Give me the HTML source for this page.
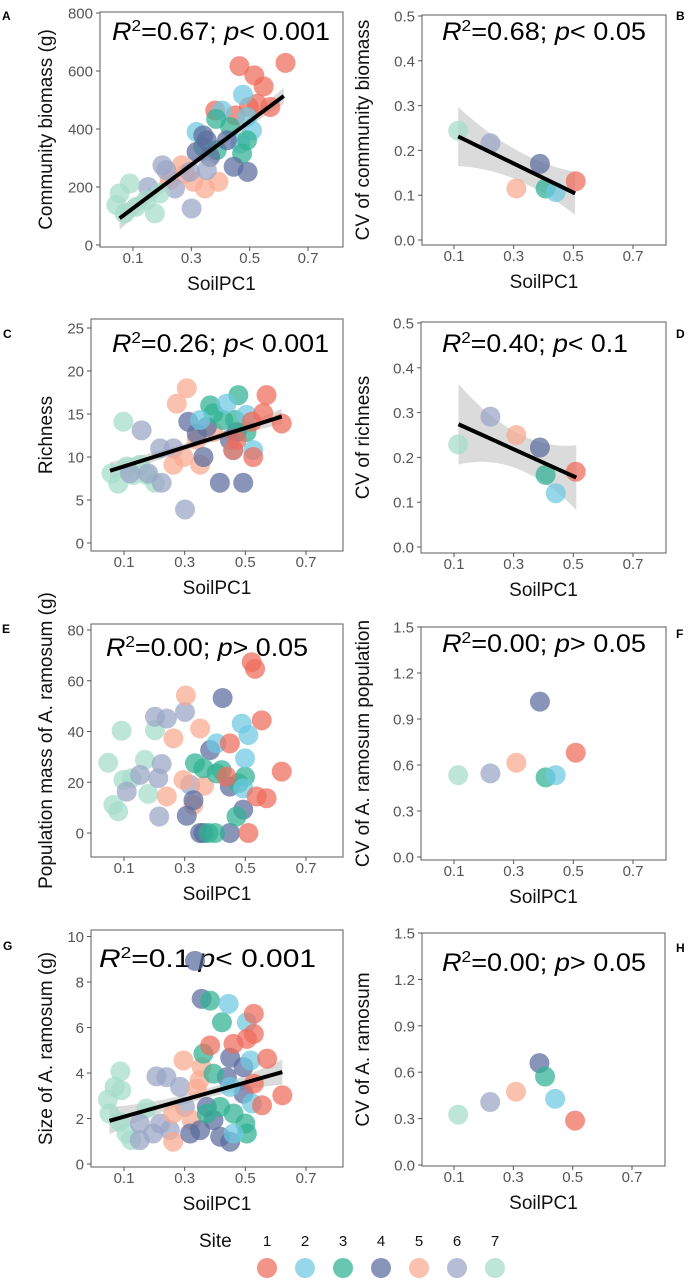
<!DOCTYPE html>
<html><head><meta charset="utf-8"><style>
html,body{margin:0;padding:0;background:#fff;}
svg{display:block;font-family:"Liberation Sans",Arial,sans-serif;}
</style></head><body>
<svg id="fig" width="688" height="1280" viewBox="0 0 688 1280" xmlns="http://www.w3.org/2000/svg"></svg>
<script>
// ---------- DATA ----------
const siteColors=['#ee6b5c','#6ec9e2','#2fb193','#5a6c9c','#f9a990','#9aa5c6','#a5dcc9'];
const siteLabels=['1','2','3','4','5','6','7'];

const aX=[.465,.516,.548,.623,.571,.525,.497,.382,.451, .477,.405,.491,.508,.468,.318, .385,.433,.491,.474,.341,.387, .341,.353,.422,.445,.493,.364,.318, .267,.279,.307,.347,.393,.226, .201,.152,.214,.244,.301,.295,.353, .089,.054,.043,.111,.175,.192,.146,.071];
const aY=[617,585,547,628,476,487,476,464,447, 518,464,441,395,350,390, 435,407,361,315,338,327, 378,361,361,270,252,304,321, 275,246,218,195,218,224, 275,200,258,195,126,252,258, 212,178,138,132,109,178,155,109];
const aSite=[1,1,1,1,1,1,1,1,1, 2,2,2,2,2,2, 3,3,3,3,3,3, 4,4,4,4,4,4,4, 5,5,5,5,5,5, 6,6,6,6,6,6,6, 7,7,7,7,7,7,7,7];
const aFitX=[.054,.617]; const aFitY=[92,514]; const aCiX=[.054,.33,.617]; const aCiHw=[40,14,28];

const cX=[.098,.059,.081,.131,.175,.202,.153,.109, .158,.219,.224,.301,.180,.120,.263, .274,.307,.263,.351,.296,.395,.340, .312,.340,.362,.416,.493,.449,.471,.373, .384,.395,.477,.427,.504,.466, .351,.438,.504,.460,.526, .570,.559,.620,.521,.526,.471,.460];
const cY=[14.1,8.1,6.9,7.9,7.9,7.0,9.1,8.9, 13.1,11.0,7.0,3.9,8.1,8.1,11.0, 16.2,18.0,9.1,9.1,10.0,12.9,12.0, 14.1,12.7,10.0,7.0,7.0,12.0,12.9,13.5, 16.0,15.1,17.2,14.3,12.9,14.3, 14.3,16.2,14.9,10.8,10.8, 17.2,15.1,13.9,14.1,10.0,12.0,10.8];
const cSite=[7,7,7,7,7,7,7,7, 6,6,6,6,6,6,6, 5,5,5,5,5,5,5, 4,4,4,4,4,4,4,4, 3,3,3,3,3,3, 2,2,2,2,2, 1,1,1,1,1,1,1];
const cFitX=[.054,.62]; const cFitY=[8.4,14.7]; const cCiX=[.054,.33,.62]; const cCiHw=[1.0,0.4,0.9];

const eX=[.048,.092,.065,.081,.098,.125,.169,.180,.202, .109,.153,.202,.241,.301,.224,.213,.216,.318, .304,.351,.263,.241,.296,.329,.364, .425,.384,.307,.351,.362,.449,.449,.493,.329, .334,.362,.405,.422,.378,.400,.471,.499,.477, .405,.488,.510,.499,.493, .521,.532,.554,.620,.537,.570,.449,.510,.438];
const eY=[27.7,40.3,11.1,8.5,20.9,21.6,28.8,15.4,40.5, 16.3,22.9,45.8,45.1,47.7,27.2,21.6,6.5,19.0, 54.2,41.2,37.3,14.4,20.9,11.1,18.6, 53.2,32.7,6.8,0,0,0,18.3,9.2,12.9, 27.5,25.5,23.5,24.8,0,0,6.5,22.2,19.6, 35.3,43.1,38.6,29.4,17.6, 67.3,64.7,44.4,24.2,14.4,13.7,35.3,0,22.2];
const eSite=[7,7,7,7,7,7,7,7,7, 6,6,6,6,6,6,6,6,6, 5,5,5,5,5,5,5, 4,4,4,4,4,4,4,4,4, 3,3,3,3,3,3,3,3,3, 2,2,2,2,2, 1,1,1,1,1,1,1,1,1];

const gX=[.047,.088,.069,.091,.052,.108,.124,.086,.174, .207,.240,.152,.196,.219,.251,.285,.301,.152, .296,.349,.262,.262,.323,.356,.340, .356,.450,.494,.439,.494,.373,.395,.417,.450,.318,.351,.334, .384,.423,.362,.395,.461,.500,.505,.373,.417, .445,.505,.517,.450,.522,.461, .528,.528,.505,.461,.572,.622,.555,.528,.384];
const gY=[2.83,4.07,3.39,3.24,2.22,1.34,1.05,1.85,2.44, 3.85,3.82,1.05,1.34,1.78,1.49,3.39,2.51,1.78, 4.55,3.68,2.22,0.98,1.93,4.26,3.31, 7.26,4.67,4.26,3.82,3.09,2.51,1.93,1.20,0.98,1.34,1.49,8.93, 7.18,6.23,4.85,3.97,2.22,1.78,1.34,2.22,2.51, 7.04,6.23,4.55,3.39,2.66,1.34, 6.60,5.72,5.50,5.28,4.63,3.02,2.58,3.53,5.21];
const gSite=[7,7,7,7,7,7,7,7,7, 6,6,6,6,6,6,6,6,6, 5,5,5,5,5,5,5, 4,4,4,4,4,4,4,4,4,4,4,4, 3,3,3,3,3,3,3,3,3, 2,2,2,2,2,2, 1,1,1,1,1,1,1,1,1];
const gFitX=[.052,.622]; const gFitY=[1.90,4.04]; const gCiX=[.052,.33,.622]; const gCiHw=[0.6,0.2,0.55];

const siteMeanX=[.114,.222,.309,.388,.407,.441,.508];
const rSite=[7,6,5,4,3,2,1];
const bY=[.244,.216,.115,.170,.115,.107,.131];
const bFitX=[.114,.506]; const bFitY=[.231,.104]; const bCiX=[.114,.31,.506]; const bCiHw=[.066,.033,.048];
const dY=[.229,.291,.250,.222,.161,.120,.168];
const dFitX=[.115,.51]; const dFitY=[.274,.155]; const dCiX=[.115,.31,.51]; const dCiHw=[.09,.04,.072];
const fY=[.534,.545,.615,1.013,.519,.534,.680];
const hY=[.326,.407,.474,.659,.572,.428,.287];

const xTicks=[0.1,0.3,0.5,0.7];
const ticksA=[0,200,400,600,800];
const ticksCV5=[0,0.1,0.2,0.3,0.4,0.5];
const ticksC=[0,5,10,15,20,25];
const ticksE=[0,20,40,60,80];
const ticksCV15=[0,0.3,0.6,0.9,1.2,1.5];
const ticksG=[0,2,4,6,8,10];

// ---------- RENDER ----------
const NS='http://www.w3.org/2000/svg';
const svg=document.getElementById('fig');
function mk(tag,attrs,parent){const e=document.createElementNS(NS,tag);for(const k in attrs)e.setAttribute(k,attrs[k]);(parent||svg).appendChild(e);return e;}
function lagr(xs,ys,x){let s=0;for(let i=0;i<xs.length;i++){let p=ys[i];for(let j=0;j<xs.length;j++)if(j!==i)p*=(x-xs[j])/(xs[i]-xs[j]);s+=p;}return s;}

const panels=[
 {id:'a',letter:'A',lx:2,ly:20,l:100,t:12,r:343,b:247,x1:133,x7:308,y0v:0,y0p:245,y1v:800,y1p:13,yt:ticksA,fmt:v=>String(v),title:'Community biomass (g)',tx:52,r2:'0.67',op:'<',pv:'0.001',s0:112,s1:330,sy:40,X:aX,Y:aY,S:aSite,fx:aFitX,fy:aFitY,cx:aCiX,ch:aCiHw},
 {id:'b',letter:'B',lx:676,ly:20,l:422,t:15,r:666,b:245,x1:454,x7:633,y0v:0,y0p:240,y1v:0.5,y1p:16,yt:ticksCV5,fmt:v=>v.toFixed(1),title:'CV of community biomass',tx:369,r2:'0.68',op:'<',pv:'0.05',s0:442,s1:646,sy:40,X:siteMeanX,Y:bY,S:rSite,fx:bFitX,fy:bFitY,cx:bCiX,ch:bCiHw},
 {id:'c',letter:'C',lx:3,ly:338,l:91,t:319,r:343,b:551,x1:124,x7:306,y0v:0,y0p:543,y1v:25,y1p:328,yt:ticksC,fmt:v=>String(v),title:'Richness',tx:52,r2:'0.26',op:'<',pv:'0.001',s0:112,s1:329,sy:352,X:cX,Y:cY,S:cSite,fx:cFitX,fy:cFitY,cx:cCiX,ch:cCiHw},
 {id:'d',letter:'D',lx:676,ly:338,l:421,t:322,r:666,b:553,x1:454,x7:633,y0v:0,y0p:547,y1v:0.5,y1p:323,yt:ticksCV5,fmt:v=>v.toFixed(1),title:'CV of richness',tx:369,r2:'0.40',op:'<',pv:'0.1',s0:442,s1:628,sy:352,X:siteMeanX,Y:dY,S:rSite,fx:dFitX,fy:dFitY,cx:dCiX,ch:dCiHw},
 {id:'e',letter:'E',lx:2,ly:633,l:91,t:624,r:343,b:857,x1:124,x7:306,y0v:0,y0p:833,y1v:80,y1p:630,yt:ticksE,fmt:v=>String(v),title:'Population mass of A. ramosum (g)',tx:52,r2:'0.00',op:'>',pv:'0.05',s0:106,s1:308,sy:656,X:eX,Y:eY,S:eSite},
 {id:'f',letter:'F',lx:676,ly:638,l:421,t:627,r:666,b:860,x1:454,x7:633,y0v:0,y0p:857,y1v:1.5,y1p:627,yt:ticksCV15,fmt:v=>v.toFixed(1),title:'CV of A. ramosum population',tx:369,r2:'0.00',op:'>',pv:'0.05',s0:442,s1:646,sy:652,X:siteMeanX,Y:fY,S:rSite},
 {id:'g',letter:'G',lx:3,ly:950,l:91,t:930,r:343,b:1167,x1:124,x7:306,y0v:0,y0p:1164,y1v:8,y1p:982,yt:ticksG,fmt:v=>String(v),title:'Size of A. ramosum (g)',tx:52,r2:'0.1',op:';',pv:'< 0.001',s0:99,s1:316,sy:967,X:gX,Y:gY,S:gSite,fx:gFitX,fy:gFitY,cx:gCiX,ch:gCiHw,gstat:true},
 {id:'h',letter:'H',lx:676,ly:952,l:422,t:933,r:665,b:1166,x1:454,x7:632,y0v:0,y0p:1165,y1v:1.5,y1p:933,yt:ticksCV15,fmt:v=>v.toFixed(1),title:'CV of A. ramosum',tx:369,r2:'0.00',op:'>',pv:'0.05',s0:442,s1:646,sy:971,X:siteMeanX,Y:hY,S:rSite}
];

panels.forEach(P=>{
  const g=mk('g',{});
  
  
  const xs=v=>P.x1+(v-0.1)*(P.x7-P.x1)/0.6;
  const ys=v=>P.y0p+(v-P.y0v)*(P.y1p-P.y0p)/(P.y1v-P.y0v);
  // frame
  const fr=mk('rect',{x:P.l,y:P.t,width:P.r-P.l,height:P.b-P.t,fill:'#fff',stroke:'#6a6a6a','stroke-width':1.1},g);
  
  
  // y ticks
  P.yt.forEach(v=>{
    const y=ys(v);
    mk('line',{x1:P.l-4,x2:P.l,y1:y,y2:y,stroke:'#555','stroke-width':1},g);
    const t=mk('text',{x:P.l-7,y:y+5.5,'text-anchor':'end','font-size':15,fill:'#555'},g);
    t.textContent=P.fmt(v);
    
    
  });
  xTicks.forEach(v=>{
    const x=xs(v);
    mk('line',{x1:x,x2:x,y1:P.b,y2:P.b+4,stroke:'#555','stroke-width':1},g);
    const t=mk('text',{x:x,y:P.b+16,'text-anchor':'middle','font-size':15,fill:'#555'},g);
    t.textContent=v.toFixed(1);
    
    
  });
  const xt=mk('text',{x:(P.l+P.r)/2,y:P.b+43,'text-anchor':'middle','font-size':19,fill:'#111'},g);
  xt.textContent='SoilPC1';
  
  
  const cyT=(P.t+P.b)/2;
  const yt=mk('text',{x:P.tx,y:cyT,'text-anchor':'middle','font-size':19,fill:'#111',transform:'rotate(-90 '+P.tx+' '+cyT+')'},g);
  yt.textContent=P.title;
  
  
  const lt=mk('text',{x:P.lx,y:P.ly,'font-size':12,'font-weight':'bold',fill:'#000'},g);
  lt.textContent=P.letter;
  
  
  // stat text
  const st=mk('text',{x:P.s0,y:P.sy,'font-size':25,fill:'#000',textLength:P.s1-P.s0,lengthAdjust:'spacingAndGlyphs'},g);
  
  
  const parts=P.gstat?
    [['R','italic',0],['2','normal',-9,16],['=0.1','normal',9],['  ','normal',0],['p','italic',0],['< 0.001','normal',0]]:
    [['R','italic',0],['2','normal',-9,16],['='+P.r2+'; ','normal',9],['p','italic',0],[P.op+' '+P.pv,'normal',0]];
  parts.forEach(pt=>{const ts=mk('tspan',{'font-style':pt[1],dy:pt[2]},st);if(pt[3])ts.setAttribute('font-size',pt[3]);ts.textContent=pt[0];});
  // CI band and fit line
  if(P.fx){
    const n=24;let up=[],lo=[];
    for(let i=0;i<=n;i++){const xv=P.fx[0]+(P.fx[1]-P.fx[0])*i/n;const yv=P.fy[0]+(P.fy[1]-P.fy[0])*i/n;const hw=lagr(P.cx,P.ch,xv);up.push(xs(xv).toFixed(1)+','+ys(yv+hw).toFixed(1));lo.unshift(xs(xv).toFixed(1)+','+ys(yv-hw).toFixed(1));}
    const band=mk('polygon',{points:up.concat(lo).join(' '),fill:'#bdbdbd','fill-opacity':0.55},g);
    
    
  }
  // points
  P.X.forEach((xv,i)=>{
    const c=mk('circle',{cx:xs(xv),cy:ys(P.Y[i]),r:10,fill:siteColors[P.S[i]-1],'fill-opacity':0.72},g);
    
    
  });
  if(P.fx){
    const ln=mk('line',{x1:xs(P.fx[0]),y1:ys(P.fy[0]),x2:xs(P.fx[1]),y2:ys(P.fy[1]),stroke:'#000','stroke-width':4},g);
    
    
  }
});

// legend
const lg=mk('g',{});


const lt=mk('text',{x:199,y:1247,'font-size':19,fill:'#111'},lg);
lt.textContent='Site';


siteLabels.forEach((s,i)=>{
  const x=267+i*38;
  const t=mk('text',{x:x,y:1246,'text-anchor':'middle','font-size':15,fill:'#111'},lg);
  t.textContent=s;
  
  
  const c=mk('circle',{cx:x,cy:1268,r:10,fill:siteColors[i],'fill-opacity':0.72},lg);
  
  
});
</script>
</body></html>
